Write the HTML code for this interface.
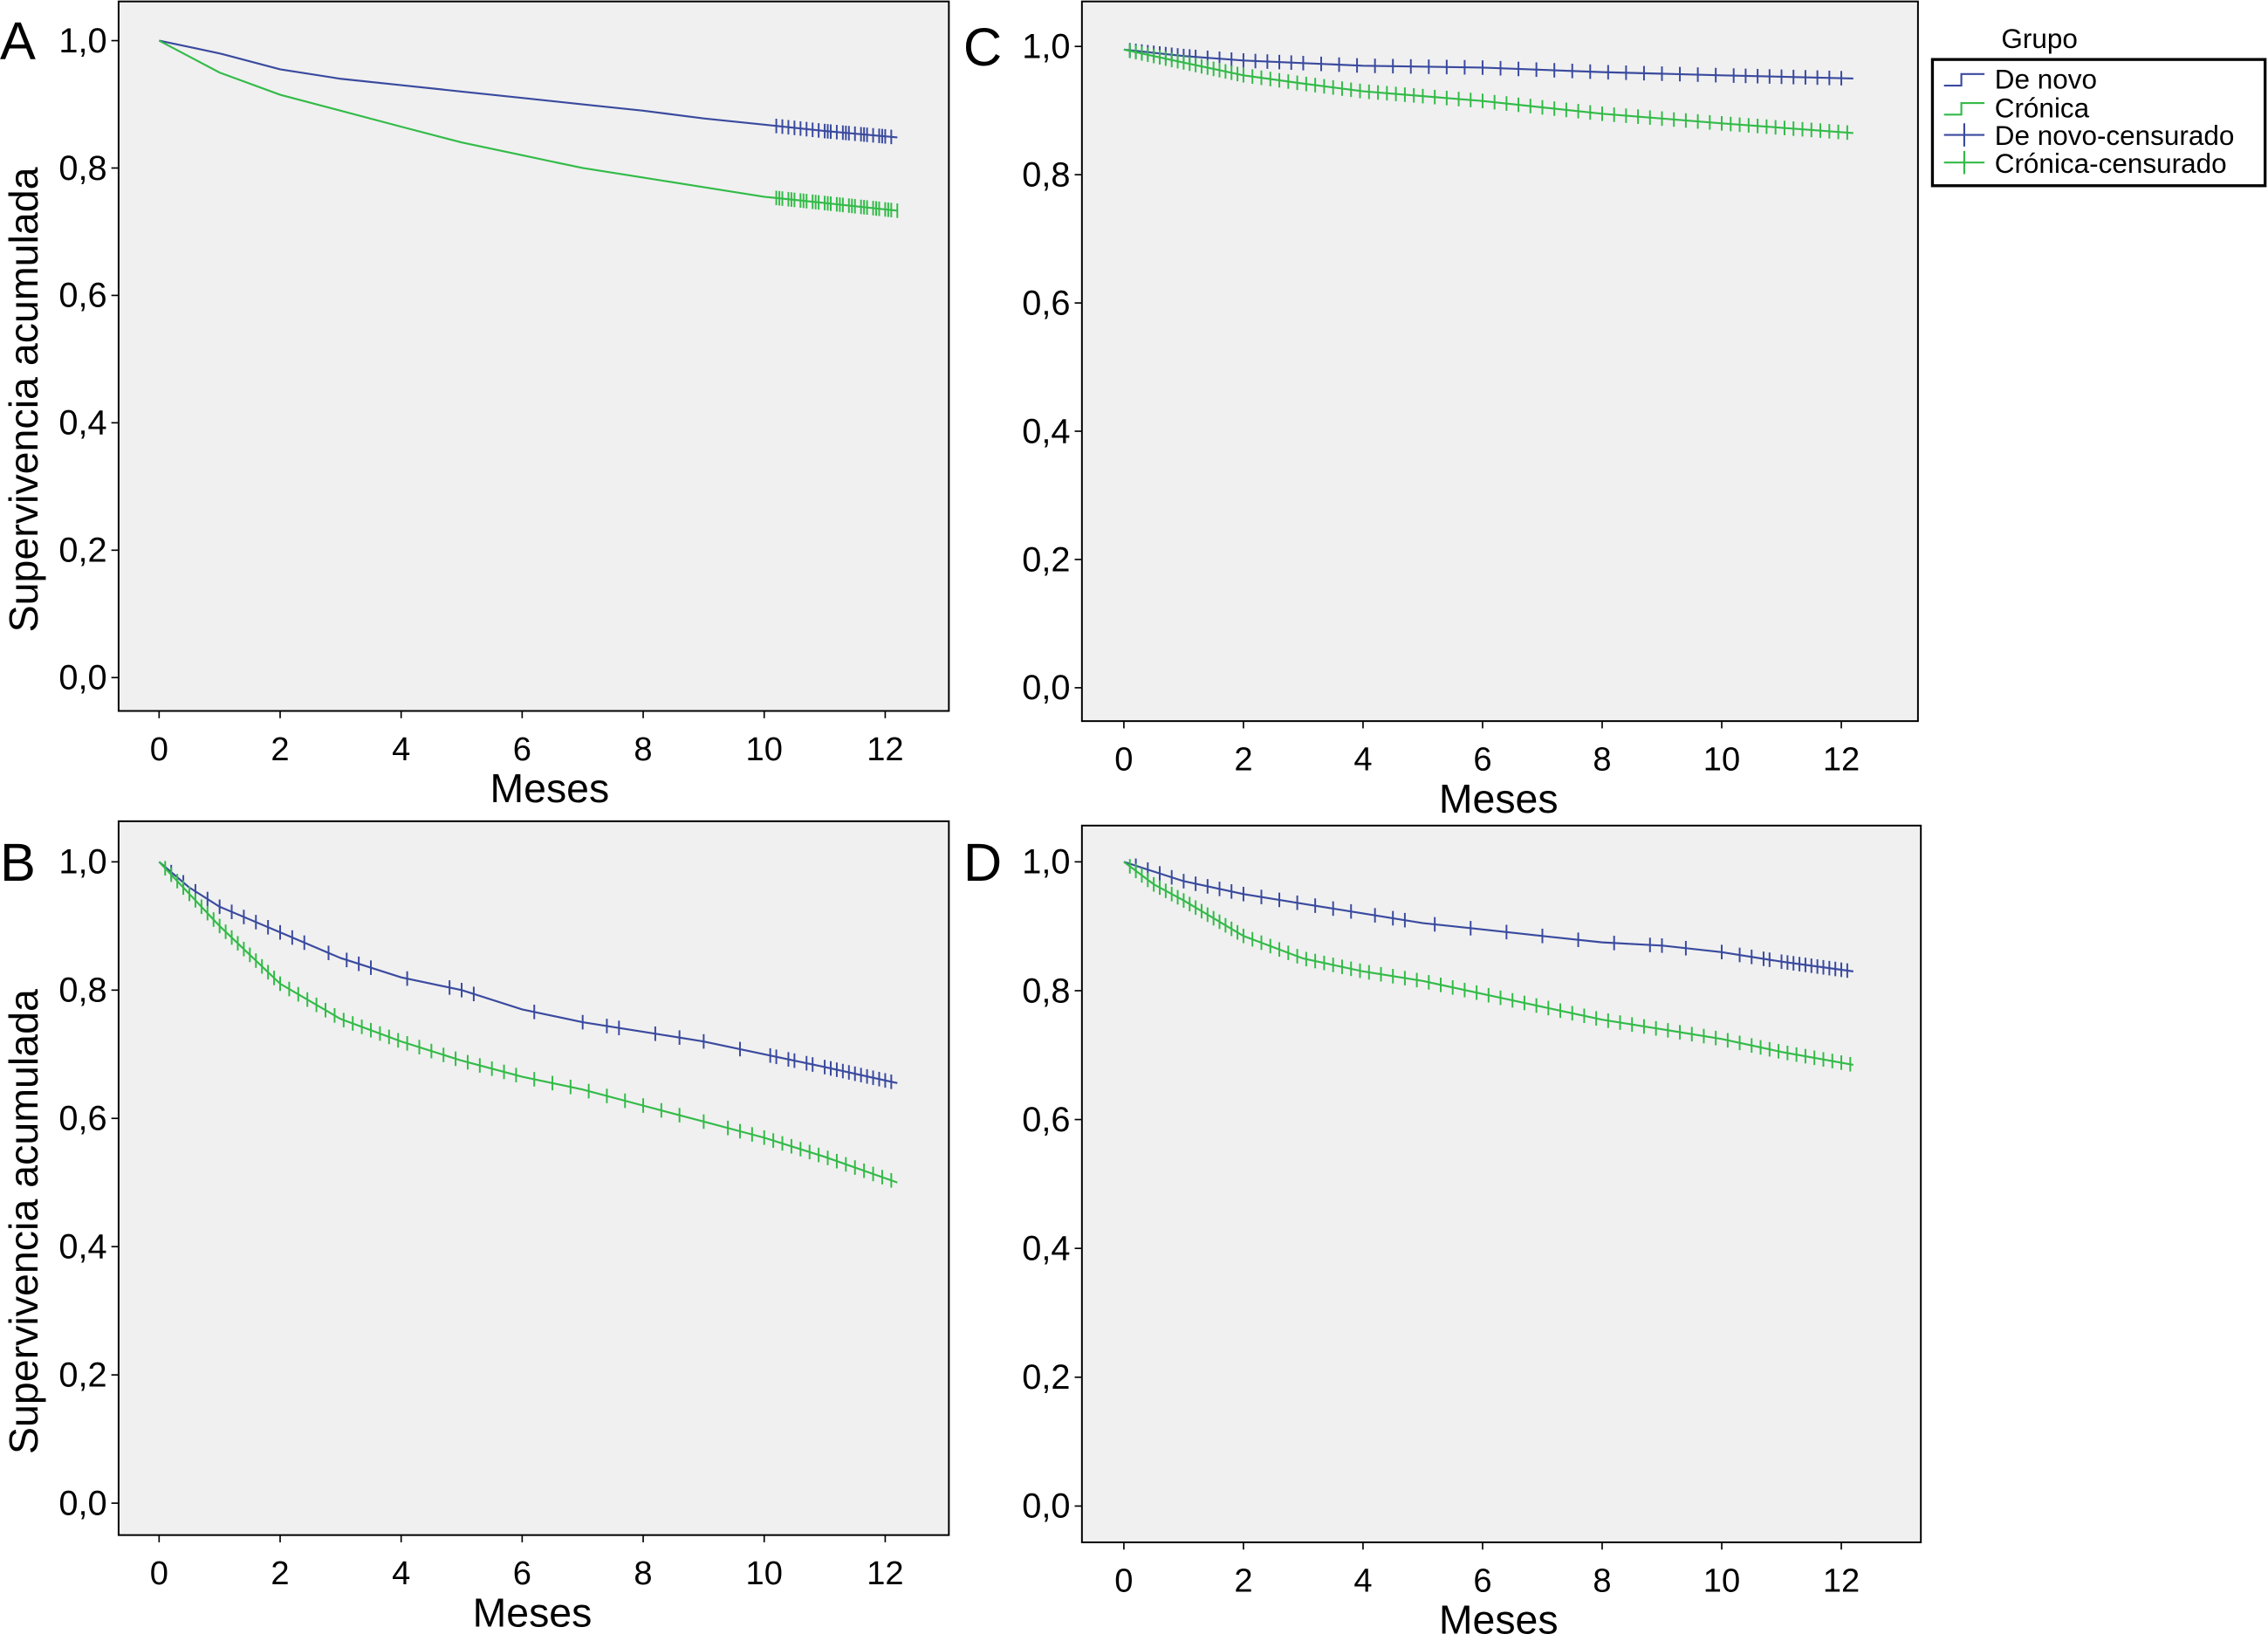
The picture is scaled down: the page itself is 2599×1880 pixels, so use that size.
<!DOCTYPE html>
<html><head><meta charset="utf-8"><style>
html,body{margin:0;padding:0;background:#fff;}
svg{display:block;font-family:"Liberation Sans",Arial,sans-serif;}
</style></head><body>
<svg id="fig" width="2599" height="1880" viewBox="0 0 1568 1131" preserveAspectRatio="none" xmlns="http://www.w3.org/2000/svg">
<g id="legend">
<text x="1410" y="33" font-size="19" text-anchor="middle">Grupo</text>
<rect x="1336" y="41" width="230" height="87" fill="#fff" stroke="#000" stroke-width="2"/>
<g><path d="M1344 59 H1356 V51 H1372" fill="none" stroke="#3a4a9f" stroke-width="1.3"/><text x="1379" y="61" font-size="19">De novo</text></g>
<g><path d="M1344 79 H1356 V71 H1372" fill="none" stroke="#33bb48" stroke-width="1.3"/><text x="1379" y="81" font-size="19">Crónica</text></g>
<g><path d="M1344 93 H1372 M1358 85 V101" stroke="#3a4a9f" stroke-width="1.3"/><text x="1379" y="100" font-size="19">De novo-censurado</text></g>
<g><path d="M1344 112 H1372 M1358 104 V120" stroke="#33bb48" stroke-width="1.3"/><text x="1379" y="119" font-size="19">Crónica-censurado</text></g>
</g>
</svg>
<script>
// Panel A
const aTimes=[0,0.5,1,2,3,4,5,6,7,8,9,10,11,12.2];
const aDeNovo=[1.0,0.99,0.98,0.955,0.94,0.93,0.92,0.91,0.90,0.89,0.878,0.868,0.858,0.848];
const aCronica=[1.0,0.975,0.95,0.915,0.89,0.865,0.84,0.82,0.80,0.785,0.77,0.755,0.745,0.733];
const aCensorDeNovo=[10.2,10.3,10.4,10.5,10.6,10.7,10.8,10.9,11.0,11.05,11.1,11.2,11.3,11.35,11.4,11.5,11.6,11.65,11.7,11.8,11.9,11.95,12.0,12.1];
const aCensorCronica=[10.2,10.25,10.3,10.4,10.45,10.5,10.6,10.65,10.7,10.8,10.85,10.9,11.0,11.05,11.1,11.2,11.25,11.3,11.4,11.45,11.5,11.6,11.65,11.7,11.8,11.85,11.9,12.0,12.05,12.1,12.2];
// Panel C
const cTimes=[0,1,2,3,4,6,8,10,12.2];
const cDeNovo=[0.995,0.985,0.978,0.974,0.97,0.967,0.96,0.955,0.95];
const cCronica=[0.995,0.975,0.955,0.942,0.93,0.915,0.895,0.88,0.865];
const cCensorDeNovo=[0.1,0.2,0.3,0.4,0.5,0.6,0.7,0.8,0.9,1.0,1.1,1.2,1.4,1.6,1.8,2.0,2.2,2.4,2.6,2.8,3.0,3.3,3.6,3.9,4.2,4.5,4.8,5.1,5.4,5.7,6.0,6.3,6.6,6.9,7.2,7.5,7.8,8.1,8.4,8.7,9.0,9.3,9.6,9.9,10.2,10.4,10.6,10.8,11.0,11.2,11.4,11.6,11.8,12.0];
const cCensorCronica=[0.1,0.2,0.3,0.4,0.5,0.6,0.7,0.8,0.9,1.0,1.1,1.2,1.3,1.4,1.5,1.6,1.7,1.8,1.9,2.0,2.15,2.3,2.45,2.6,2.75,2.9,3.05,3.2,3.35,3.5,3.65,3.8,3.95,4.1,4.25,4.4,4.55,4.7,4.85,5.0,5.2,5.4,5.6,5.8,6.0,6.2,6.4,6.6,6.8,7.0,7.2,7.4,7.6,7.8,8.0,8.2,8.4,8.6,8.8,9.0,9.2,9.4,9.6,9.8,10.0,10.15,10.3,10.45,10.6,10.75,10.9,11.05,11.2,11.35,11.5,11.65,11.8,11.95,12.1];
// Panel B
const bTimes=[0,0.5,1,2,3,4,5,6,7,8,9,10,11,12.2];
const bDeNovo=[1.0,0.96,0.93,0.89,0.85,0.82,0.80,0.77,0.75,0.735,0.72,0.70,0.68,0.655];
const bCronica=[1.0,0.95,0.90,0.81,0.755,0.72,0.69,0.665,0.645,0.62,0.595,0.57,0.54,0.50];
const bCensorDeNovo=[0.2,0.4,0.6,0.8,1.0,1.2,1.4,1.6,1.8,2.0,2.2,2.4,2.8,3.1,3.3,3.5,4.1,4.8,5.0,5.2,6.2,7.0,7.4,7.6,8.2,8.6,9.0,9.6,10.1,10.2,10.4,10.5,10.7,10.8,11.0,11.1,11.2,11.3,11.4,11.5,11.6,11.7,11.8,11.9,12.0,12.1];
const bCensorCronica=[0.1,0.2,0.3,0.4,0.5,0.6,0.7,0.8,0.9,1.0,1.1,1.2,1.3,1.4,1.5,1.6,1.7,1.8,1.9,2.0,2.15,2.3,2.45,2.6,2.75,2.9,3.05,3.2,3.35,3.5,3.65,3.8,3.95,4.1,4.3,4.5,4.7,4.9,5.1,5.3,5.5,5.7,5.9,6.2,6.5,6.8,7.1,7.4,7.7,8.0,8.3,8.6,9.0,9.4,9.6,9.8,10.0,10.15,10.3,10.45,10.6,10.75,10.9,11.05,11.2,11.35,11.5,11.65,11.8,11.95,12.1];
// Panel D
const dTimes=[0,0.5,1,2,3,4,5,6,7,8,9,10,11,12.2];
const dDeNovo=[1.0,0.985,0.97,0.95,0.935,0.92,0.905,0.895,0.885,0.875,0.87,0.86,0.845,0.83];
const dCronica=[1.0,0.965,0.94,0.885,0.85,0.83,0.815,0.795,0.775,0.755,0.74,0.725,0.705,0.685];
const dCensorDeNovo=[0.2,0.4,0.6,0.8,1.0,1.2,1.4,1.6,1.8,2.0,2.3,2.6,2.9,3.2,3.5,3.8,4.2,4.5,4.7,5.2,5.8,6.4,7.0,7.6,8.2,8.8,9.0,9.4,10.0,10.3,10.5,10.7,10.8,11.0,11.1,11.2,11.3,11.4,11.5,11.6,11.7,11.8,11.9,12.0,12.1];
const dCensorCronica=[0.1,0.2,0.3,0.4,0.5,0.6,0.7,0.8,0.9,1.0,1.1,1.2,1.3,1.4,1.5,1.6,1.7,1.8,1.9,2.0,2.15,2.3,2.45,2.6,2.75,2.9,3.05,3.2,3.35,3.5,3.65,3.8,3.95,4.1,4.3,4.5,4.7,4.9,5.1,5.3,5.5,5.7,5.9,6.1,6.3,6.5,6.7,6.9,7.1,7.3,7.5,7.7,7.9,8.1,8.3,8.5,8.7,8.9,9.1,9.3,9.5,9.7,9.9,10.1,10.3,10.5,10.65,10.8,10.95,11.1,11.25,11.4,11.55,11.7,11.85,12.0,12.15];
const xTicks=[0,2,4,6,8,10,12];
const yTicks=[0,0.2,0.4,0.6,0.8,1.0];
const yTickLabels=["0,0","0,2","0,4","0,6","0,8","1,0"];

const NS="http://www.w3.org/2000/svg";
const svg=document.getElementById('fig');
const BLUE="#3a4a9f",GREEN="#33bb48";
function mk(tag,attrs,parent){const e=document.createElementNS(NS,tag);for(const k in attrs)e.setAttribute(k,attrs[k]);parent.appendChild(e);return e;}
function interp(ts,vs,t){for(let i=1;i<ts.length;i++){if(t<=ts[i]){const f=(t-ts[i-1])/(ts[i]-ts[i-1]);return vs[i-1]+f*(vs[i]-vs[i-1]);}}return vs[vs.length-1];}

function panel(p){
  const g=mk('g',{},svg);
  
  
  const xs=t=>p.x0+(p.x12-p.x0)*t/12;
  const ys=v=>p.y0+(p.y1-p.y0)*v;
  const bg=mk('rect',{x:p.bx,y:p.by,width:p.bw,height:p.bh,fill:'#f0f0f0',stroke:'#000','stroke-width':1.2},g);
  
  
  const lt=mk('text',{x:p.bx-82,y:p.y1+13,'font-size':37},g);lt.textContent=p.id;
  
  
  yTicks.forEach((v,i)=>{
    mk('line',{x1:p.bx-5,x2:p.bx,y1:ys(v),y2:ys(v),stroke:'#000','stroke-width':1},g);
    const t=mk('text',{x:p.bx-8,y:ys(v)+8,'font-size':24,'text-anchor':'end'},g);t.textContent=yTickLabels[i];
    
    
  });
  xTicks.forEach(v=>{
    mk('line',{x1:xs(v),x2:xs(v),y1:p.by+p.bh,y2:p.by+p.bh+5,stroke:'#000','stroke-width':1},g);
    const t=mk('text',{x:xs(v),y:p.by+p.bh+34,'font-size':23,'text-anchor':'middle'},g);t.textContent=v;
    
    
  });
  const xl=mk('text',{x:p.mx,y:p.by+p.bh+63,'font-size':28,'text-anchor':'middle'},g);xl.textContent='Meses';
  
  
  if(p.ylab){
    const cy=(p.by+p.by+p.bh)/2+30;
    const yl=mk('text',{x:0,y:0,'font-size':28,'text-anchor':'middle',transform:`translate(26,${cy}) rotate(-90)`},g);yl.textContent='Supervivencia acumulada';
    
    
  }
  [[p.dn,p.cdn,BLUE,'de-novo'],[p.cr,p.ccr,GREEN,'cronica']].forEach(([vals,cens,col,nm])=>{
    let d='';p.t.forEach((t,i)=>{d+=(i?'L':'M')+xs(t).toFixed(1)+' '+ys(vals[i]).toFixed(1)+' ';});
    const path=mk('path',{d:d,fill:'none',stroke:col,'stroke-width':1.3},g);
    
    
    cens.forEach(t=>{
      const X=xs(t),Y=ys(interp(p.t,vals,t));
      const c=mk('line',{x1:X,x2:X,y1:Y-5,y2:Y+5,stroke:col,'stroke-width':1.2},g);
      
      
    });
  });
}
panel({id:'A',bx:82,by:1,bw:574,bh:489,x0:110,x12:612,y0:467,y1:28,mx:380,ylab:true,t:aTimes,dn:aDeNovo,cr:aCronica,cdn:aCensorDeNovo,ccr:aCensorCronica});
panel({id:'C',bx:748,by:1,bw:578,bh:496,x0:777,x12:1273,y0:474,y1:32,mx:1036,ylab:false,t:cTimes,dn:cDeNovo,cr:cCronica,cdn:cCensorDeNovo,ccr:cCensorCronica});
panel({id:'B',bx:82,by:566,bw:574,bh:492,x0:110,x12:612,y0:1036,y1:594,mx:368,ylab:true,t:bTimes,dn:bDeNovo,cr:bCronica,cdn:bCensorDeNovo,ccr:bCensorCronica});
panel({id:'D',bx:748,by:569,bw:580,bh:494,x0:777,x12:1273,y0:1038,y1:594,mx:1036,ylab:false,t:dTimes,dn:dDeNovo,cr:dCronica,cdn:dCensorDeNovo,ccr:dCensorCronica});
</script>
</body></html>
